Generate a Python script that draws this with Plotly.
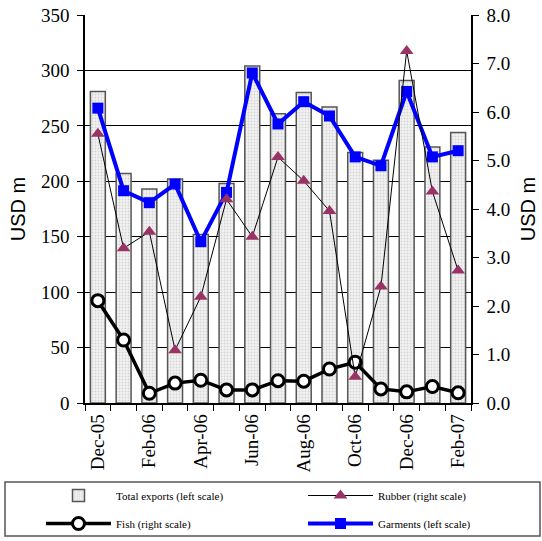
import plotly.graph_objects as go

months = ["Dec-05", "Jan-06", "Feb-06", "Mar-06", "Apr-06", "May-06", "Jun-06", "Jul-06",
          "Aug-06", "Sep-06", "Oct-06", "Nov-06", "Dec-06", "Jan-07", "Feb-07"]
tick_labels = ["Dec-05", "", "Feb-06", "", "Apr-06", "", "Jun-06", "",
               "Aug-06", "", "Oct-06", "", "Dec-06", "", "Feb-07"]
total_exports = [281, 207, 193, 202, 152, 198, 304, 261, 280, 267, 226, 219, 291, 231, 244]
garments = [266, 191.5, 180.7, 197.5, 145.5, 190, 297.7, 251.7, 271.8, 258.9, 222, 214, 281, 222, 227.6]
rubber = [5.55, 3.19, 3.53, 1.09, 2.19, 4.2, 3.43, 5.07, 4.58, 3.96, 0.54, 2.40, 7.26, 4.36, 2.73]
fish = [2.11, 1.30, 0.20, 0.41, 0.47, 0.27, 0.27, 0.46, 0.45, 0.70, 0.84, 0.29, 0.23, 0.34, 0.21]

serif = "Liberation Serif"
sans = "Liberation Sans"
W, H = 542, 541
TICK = 19

fig = go.Figure()
fig.add_trace(go.Bar(
    x=months, y=total_exports, name="Total exports (left scale)", width=0.58,
    marker=dict(color="#ececec", line=dict(color="#555555", width=1.5),
                pattern=dict(shape=".", fgcolor="#b8b8b8", bgcolor="#f2f2f2", size=3, solidity=0.3)),
    legend="legend", showlegend=True,
))
fig.add_trace(go.Scatter(
    x=months, y=fish, name="Fish (right scale)", yaxis="y2", mode="lines+markers",
    line=dict(color="black", width=3.5),
    marker=dict(symbol="circle", size=12, color="white", line=dict(color="black", width=3)),
    legend="legend3", showlegend=True,
))
fig.add_trace(go.Scatter(
    x=months, y=rubber, name="Rubber (right scale)", yaxis="y2", mode="lines+markers",
    line=dict(color="black", width=1),
    marker=dict(symbol="triangle-up", size=12, color="#993366"),
    legend="legend2", showlegend=True,
))
fig.add_trace(go.Scatter(
    x=months, y=garments, name="Garments (left scale)", mode="lines+markers",
    line=dict(color="#0000ff", width=4),
    marker=dict(symbol="square", size=11, color="#0000ff"),
    legend="legend4", showlegend=True,
))


def leg(px, py):
    return dict(
        orientation="h", xref="container", yref="container",
        x=px / W, y=1 - py / H, xanchor="left", yanchor="top",
        font=dict(family=serif, size=11, color="black"), itemwidth=65,
        bgcolor="rgba(0,0,0,0)", itemclick=False, itemdoubleclick=False,
    )


fig.update_layout(
    width=W, height=H, showlegend=True,
    margin=dict(l=85, r=71, t=15, b=138),
    paper_bgcolor="white", plot_bgcolor="white",
    xaxis=dict(
        type="category", tickmode="array", tickvals=months, ticktext=tick_labels,
        tickson="boundaries", ticks="outside", ticklen=6, tickcolor="black",
        tickangle=-90, tickfont=dict(family=serif, size=TICK, color="black"),
        ticklabelstandoff=2,
        showline=True, linecolor="black", linewidth=1.5, showgrid=False,
        range=[-0.5, 14.5], automargin=False,
    ),
    yaxis=dict(
        range=[0, 350], dtick=50, ticks="outside", ticklen=6, tickcolor="black",
        tickfont=dict(family=serif, size=TICK, color="black"), ticklabelstandoff=4,
        showline=True, linecolor="black", linewidth=1.5,
        showgrid=True, gridcolor="black", gridwidth=1,
        title=dict(text="USD m", font=dict(family=sans, size=20, color="black"), standoff=10),
        zeroline=False, automargin=False,
    ),
    yaxis2=dict(
        range=[0, 8], dtick=1, tickformat=".1f", overlaying="y", side="right",
        ticks="outside", ticklen=6, tickcolor="black",
        tickfont=dict(family=serif, size=TICK, color="black"), ticklabelstandoff=4,
        showline=True, linecolor="black", linewidth=1.5, showgrid=False,
        title=dict(text="USD m", font=dict(family=sans, size=20, color="black"), standoff=12),
        zeroline=False, automargin=False,
    ),
    legend=leg(41, 481),
    legend2=leg(303, 481),
    legend3=leg(41, 509),
    legend4=leg(303, 509),
    shapes=[dict(type="rect", xref="paper", yref="paper",
                 x0=(5 - 85) / 386, x1=(540 - 85) / 386,
                 y0=(403 - 536) / 388, y1=(403 - 482) / 388,
                 line=dict(color="#555555", width=1.5), fillcolor="rgba(0,0,0,0)")],
)

fig.write_html("out.html", config={"displayModeBar": False},
               post_script="document.body.style.margin='0';document.body.style.padding='0';")
